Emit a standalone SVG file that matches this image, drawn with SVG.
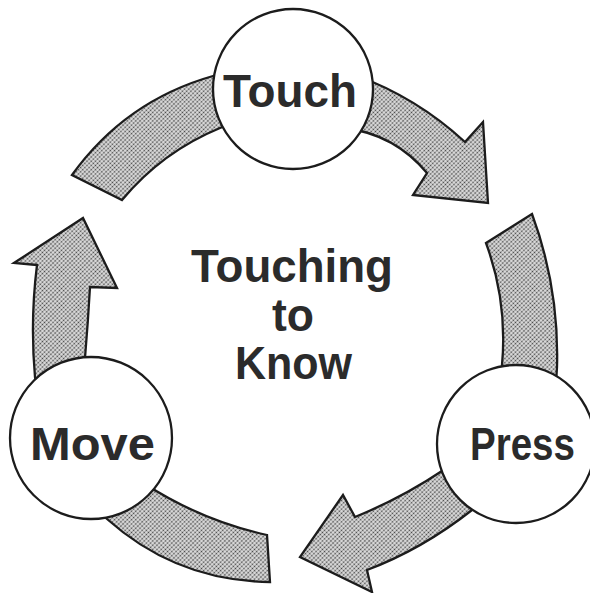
<svg xmlns="http://www.w3.org/2000/svg" width="590" height="593" viewBox="0 0 590 593">
  <defs>
    <pattern id="dots" width="3" height="3" patternUnits="userSpaceOnUse" patternTransform="rotate(45)">
      <rect width="3" height="3" fill="#e2e2e2"/>
      <circle cx="1.5" cy="1.5" r="0.9" fill="#444444"/>
    </pattern>
  </defs>
  <style>
    .band { fill: url(#dots); stroke: #1c1c1c; stroke-width: 2.3; stroke-linejoin: miter; }
    .node { fill: #ffffff; stroke: #1c1c1c; stroke-width: 2.3; }
    .lbl { font-family: "Liberation Sans", Arial, sans-serif; font-weight: bold; font-size: 47px; fill: #2b2b2b; }
  </style>
  <rect width="590" height="593" fill="#ffffff"/>

  <g id="connectors">
    <path id="arc-move-touch-tail" class="band" d="M72,175 Q125.3,100.9 213,76 L240,68 L245,118 L220,128 Q162.2,151.8 122,200 Z"/>
    <path id="arc-touch-press" class="band" d="M355,75 Q416.8,97.5 465,142 L483,122 L488,203 L413,195 L427,173 Q394.8,134.3 345,128 Z"/>
    <path id="arc-touch-press-tail" class="band" d="M486,243 L532,214 Q559.3,288.1 557,367 L555,400 L505,400 L502,365 Q507.8,302.2 486,243 Z"/>
    <path id="arc-press-move" class="band" d="M470,455 L445,469 Q402,498 355,517 L343,495 L300,557 L372,592 L367,570 Q422.5,549 472,510 L492,496 Z"/>
    <path id="arc-press-move-tail" class="band" d="M145,484 Q201.4,520.5 267,535 L270,582 Q176.7,581.1 107,519 L95,508 Z"/>
    <path id="arc-move-touch" class="band" d="M37,265 L14,263 L83,218 L117,288 L90,287 Q88,322 85,358 L88,400 L40,405 L35,377 Q30,321 37,265 Z"/>
  </g>

  <g id="node-touch">
    <circle class="node" cx="293" cy="89" r="80"/>
    <text class="lbl" x="223" y="107" textLength="134" lengthAdjust="spacingAndGlyphs">Touch</text>
  </g>
  <g id="node-press">
    <circle class="node" cx="516" cy="444" r="79"/>
    <text class="lbl" transform="translate(470,460) scale(0.82,1)" x="0" y="0">Press</text>
  </g>
  <g id="node-move">
    <circle class="node" cx="91" cy="438" r="81"/>
    <text class="lbl" x="30" y="460" textLength="125" lengthAdjust="spacingAndGlyphs">Move</text>
  </g>
  <g id="center-title">
    <text class="lbl" x="191" y="282" textLength="202" lengthAdjust="spacingAndGlyphs">Touching</text>
    <text class="lbl" x="272" y="331" textLength="42" lengthAdjust="spacingAndGlyphs">to</text>
    <text class="lbl" x="235" y="379" textLength="117" lengthAdjust="spacingAndGlyphs">Know</text>
  </g>
</svg>
